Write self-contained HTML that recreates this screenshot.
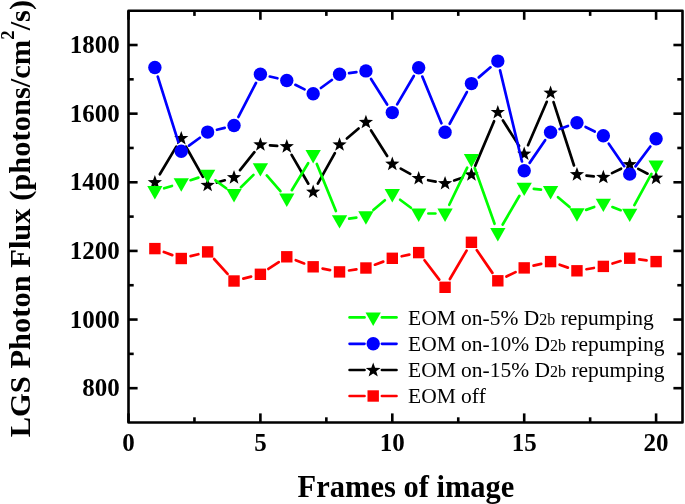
<!DOCTYPE html>
<html><head><meta charset="utf-8"><style>
html,body{margin:0;padding:0;background:#fff;width:685px;height:504px;overflow:hidden;}
svg{display:block;font-family:"Liberation Serif", serif;will-change:transform;}
</style></head><body>
<svg width="685" height="504" viewBox="0 0 685 504"><g stroke="#000" stroke-width="2.6" stroke-linecap="butt"><line x1="128.50" y1="422.5" x2="128.50" y2="413.4"/><line x1="128.50" y1="10.7" x2="128.50" y2="19.799999999999997"/><line x1="194.45" y1="422.5" x2="194.45" y2="417.3"/><line x1="194.45" y1="10.7" x2="194.45" y2="15.899999999999999"/><line x1="260.40" y1="422.5" x2="260.40" y2="413.4"/><line x1="260.40" y1="10.7" x2="260.40" y2="19.799999999999997"/><line x1="326.35" y1="422.5" x2="326.35" y2="417.3"/><line x1="326.35" y1="10.7" x2="326.35" y2="15.899999999999999"/><line x1="392.30" y1="422.5" x2="392.30" y2="413.4"/><line x1="392.30" y1="10.7" x2="392.30" y2="19.799999999999997"/><line x1="458.25" y1="422.5" x2="458.25" y2="417.3"/><line x1="458.25" y1="10.7" x2="458.25" y2="15.899999999999999"/><line x1="524.20" y1="422.5" x2="524.20" y2="413.4"/><line x1="524.20" y1="10.7" x2="524.20" y2="19.799999999999997"/><line x1="590.15" y1="422.5" x2="590.15" y2="417.3"/><line x1="590.15" y1="10.7" x2="590.15" y2="15.899999999999999"/><line x1="656.10" y1="422.5" x2="656.10" y2="413.4"/><line x1="656.10" y1="10.7" x2="656.10" y2="19.799999999999997"/><line x1="128.5" y1="388.18" x2="137.6" y2="388.18"/><line x1="682.5" y1="388.18" x2="673.4" y2="388.18"/><line x1="128.5" y1="353.87" x2="133.7" y2="353.87"/><line x1="682.5" y1="353.87" x2="677.3" y2="353.87"/><line x1="128.5" y1="319.55" x2="137.6" y2="319.55"/><line x1="682.5" y1="319.55" x2="673.4" y2="319.55"/><line x1="128.5" y1="285.23" x2="133.7" y2="285.23"/><line x1="682.5" y1="285.23" x2="677.3" y2="285.23"/><line x1="128.5" y1="250.92" x2="137.6" y2="250.92"/><line x1="682.5" y1="250.92" x2="673.4" y2="250.92"/><line x1="128.5" y1="216.60" x2="133.7" y2="216.60"/><line x1="682.5" y1="216.60" x2="677.3" y2="216.60"/><line x1="128.5" y1="182.28" x2="137.6" y2="182.28"/><line x1="682.5" y1="182.28" x2="673.4" y2="182.28"/><line x1="128.5" y1="147.96" x2="133.7" y2="147.96"/><line x1="682.5" y1="147.96" x2="677.3" y2="147.96"/><line x1="128.5" y1="113.65" x2="137.6" y2="113.65"/><line x1="682.5" y1="113.65" x2="673.4" y2="113.65"/><line x1="128.5" y1="79.33" x2="133.7" y2="79.33"/><line x1="682.5" y1="79.33" x2="677.3" y2="79.33"/><line x1="128.5" y1="45.01" x2="137.6" y2="45.01"/><line x1="682.5" y1="45.01" x2="673.4" y2="45.01"/></g>
<rect x="128.5" y="10.7" width="554.0" height="411.8" fill="none" stroke="#000" stroke-width="2.6" stroke-linejoin="round"/>
<g font-family="Liberation Serif" font-weight="bold" font-size="25" fill="#000"><text transform="translate(119.8,396.18) scale(1,1.03)" text-anchor="end">800</text><text transform="translate(119.8,327.55) scale(1,1.03)" text-anchor="end">1000</text><text transform="translate(119.8,258.92) scale(1,1.03)" text-anchor="end">1200</text><text transform="translate(119.8,190.28) scale(1,1.03)" text-anchor="end">1400</text><text transform="translate(119.8,121.65) scale(1,1.03)" text-anchor="end">1600</text><text transform="translate(119.8,53.01) scale(1,1.03)" text-anchor="end">1800</text><text transform="translate(128.50,451.4) scale(1,1.03)" text-anchor="middle">0</text><text transform="translate(260.40,451.4) scale(1,1.03)" text-anchor="middle">5</text><text transform="translate(392.30,451.4) scale(1,1.03)" text-anchor="middle">10</text><text transform="translate(524.20,451.4) scale(1,1.03)" text-anchor="middle">15</text><text transform="translate(656.10,451.4) scale(1,1.03)" text-anchor="middle">20</text></g>
<text transform="translate(406,497.3)" text-anchor="middle" font-family="Liberation Serif" font-weight="bold" font-size="30.5">Frames of image</text>
<text transform="translate(30.3,437.3) rotate(-90) scale(1.045,1)" x="0" y="0" font-family="Liberation Serif" font-weight="bold" font-size="29.2">LGS Photon Flux (photons/cm<tspan dy="-16.5" font-size="18">2</tspan><tspan dy="16.5">/s)</tspan></text>
<g stroke="#ff0000" stroke-width="2.7" stroke-linecap="round"><line x1="163.87" y1="251.97" x2="172.27" y2="255.13"/><line x1="190.57" y1="256.17" x2="198.33" y2="254.23"/><line x1="214.09" y1="259.01" x2="227.57" y2="273.89"/><line x1="243.32" y1="278.64" x2="251.10" y2="276.66"/><line x1="268.40" y1="268.99" x2="278.78" y2="262.11"/><line x1="295.76" y1="260.20" x2="304.18" y2="263.40"/><line x1="322.59" y1="268.62" x2="330.11" y2="270.08"/><line x1="349.04" y1="270.50" x2="356.42" y2="269.40"/><line x1="374.93" y1="264.69" x2="383.29" y2="261.61"/><line x1="401.68" y1="256.27" x2="409.30" y2="254.63"/><line x1="424.49" y1="260.24" x2="439.25" y2="279.66"/><line x1="449.92" y1="279.02" x2="466.58" y2="250.58"/><line x1="476.87" y1="250.22" x2="492.39" y2="272.88"/><line x1="506.44" y1="276.58" x2="515.58" y2="272.12"/><line x1="533.54" y1="265.67" x2="541.24" y2="263.83"/><line x1="559.64" y1="264.76" x2="567.90" y2="267.64"/><line x1="586.43" y1="269.22" x2="593.87" y2="267.98"/><line x1="612.51" y1="263.55" x2="620.55" y2="261.05"/><line x1="639.24" y1="259.43" x2="646.58" y2="260.37"/></g>
<rect x="149.18" y="242.90" width="11.4" height="11.4" fill="#ff0000"/><rect x="175.56" y="252.80" width="11.4" height="11.4" fill="#ff0000"/><rect x="201.94" y="246.20" width="11.4" height="11.4" fill="#ff0000"/><rect x="228.32" y="275.30" width="11.4" height="11.4" fill="#ff0000"/><rect x="254.70" y="268.60" width="11.4" height="11.4" fill="#ff0000"/><rect x="281.08" y="251.10" width="11.4" height="11.4" fill="#ff0000"/><rect x="307.46" y="261.10" width="11.4" height="11.4" fill="#ff0000"/><rect x="333.84" y="266.20" width="11.4" height="11.4" fill="#ff0000"/><rect x="360.22" y="262.30" width="11.4" height="11.4" fill="#ff0000"/><rect x="386.60" y="252.60" width="11.4" height="11.4" fill="#ff0000"/><rect x="412.98" y="246.90" width="11.4" height="11.4" fill="#ff0000"/><rect x="439.36" y="281.60" width="11.4" height="11.4" fill="#ff0000"/><rect x="465.74" y="236.60" width="11.4" height="11.4" fill="#ff0000"/><rect x="492.12" y="275.10" width="11.4" height="11.4" fill="#ff0000"/><rect x="518.50" y="262.20" width="11.4" height="11.4" fill="#ff0000"/><rect x="544.88" y="255.90" width="11.4" height="11.4" fill="#ff0000"/><rect x="571.26" y="265.10" width="11.4" height="11.4" fill="#ff0000"/><rect x="597.64" y="260.70" width="11.4" height="11.4" fill="#ff0000"/><rect x="624.02" y="252.50" width="11.4" height="11.4" fill="#ff0000"/><rect x="650.40" y="255.90" width="11.4" height="11.4" fill="#ff0000"/>
<g stroke="#000000" stroke-width="2.7" stroke-linecap="round"><line x1="159.81" y1="174.26" x2="176.33" y2="146.64"/><line x1="185.97" y1="146.76" x2="202.93" y2="176.84"/><line x1="216.86" y1="182.54" x2="224.80" y2="180.26"/><line x1="240.03" y1="170.11" x2="254.39" y2="152.19"/><line x1="269.98" y1="145.39" x2="277.20" y2="145.91"/><line x1="291.60" y1="154.90" x2="308.34" y2="183.70"/><line x1="317.84" y1="183.62" x2="334.86" y2="153.08"/><line x1="346.86" y1="138.49" x2="358.60" y2="128.51"/><line x1="371.04" y1="130.42" x2="387.18" y2="155.98"/><line x1="400.74" y1="168.67" x2="410.24" y2="173.83"/><line x1="428.11" y1="180.22" x2="435.63" y2="181.68"/><line x1="454.17" y1="180.46" x2="462.33" y2="177.74"/><line x1="475.18" y1="165.86" x2="494.08" y2="121.24"/><line x1="502.96" y1="120.51" x2="519.06" y2="145.89"/><line x1="528.01" y1="145.19" x2="546.77" y2="101.81"/><line x1="553.53" y1="102.13" x2="574.01" y2="165.47"/><line x1="586.51" y1="175.58" x2="593.79" y2="176.32"/><line x1="611.98" y1="173.11" x2="621.08" y2="168.69"/><line x1="638.25" y1="168.90" x2="647.57" y2="173.70"/></g>
<polygon points="154.88,175.00 156.69,180.01 162.01,180.18 157.80,183.45 159.29,188.57 154.88,185.57 150.47,188.57 151.96,183.45 147.75,180.18 153.07,180.01" fill="#000"/><polygon points="181.26,130.90 183.07,135.91 188.39,136.08 184.18,139.35 185.67,144.47 181.26,141.47 176.85,144.47 178.34,139.35 174.13,136.08 179.45,135.91" fill="#000"/><polygon points="207.64,177.70 209.45,182.71 214.77,182.88 210.56,186.15 212.05,191.27 207.64,188.27 203.23,191.27 204.72,186.15 200.51,182.88 205.83,182.71" fill="#000"/><polygon points="234.02,170.10 235.83,175.11 241.15,175.28 236.94,178.55 238.43,183.67 234.02,180.67 229.61,183.67 231.10,178.55 226.89,175.28 232.21,175.11" fill="#000"/><polygon points="260.40,137.20 262.21,142.21 267.53,142.38 263.32,145.65 264.81,150.77 260.40,147.77 255.99,150.77 257.48,145.65 253.27,142.38 258.59,142.21" fill="#000"/><polygon points="286.78,139.10 288.59,144.11 293.91,144.28 289.70,147.55 291.19,152.67 286.78,149.67 282.37,152.67 283.86,147.55 279.65,144.28 284.97,144.11" fill="#000"/><polygon points="313.16,184.50 314.97,189.51 320.29,189.68 316.08,192.95 317.57,198.07 313.16,195.07 308.75,198.07 310.24,192.95 306.03,189.68 311.35,189.51" fill="#000"/><polygon points="339.54,137.20 341.35,142.21 346.67,142.38 342.46,145.65 343.95,150.77 339.54,147.77 335.13,150.77 336.62,145.65 332.41,142.38 337.73,142.21" fill="#000"/><polygon points="365.92,114.80 367.73,119.81 373.05,119.98 368.84,123.25 370.33,128.37 365.92,125.38 361.51,128.37 363.00,123.25 358.79,119.98 364.11,119.81" fill="#000"/><polygon points="392.30,156.60 394.11,161.61 399.43,161.78 395.22,165.05 396.71,170.17 392.30,167.17 387.89,170.17 389.38,165.05 385.17,161.78 390.49,161.61" fill="#000"/><polygon points="418.68,170.90 420.49,175.91 425.81,176.08 421.60,179.35 423.09,184.47 418.68,181.47 414.27,184.47 415.76,179.35 411.55,176.08 416.87,175.91" fill="#000"/><polygon points="445.06,176.00 446.87,181.01 452.19,181.18 447.98,184.45 449.47,189.57 445.06,186.57 440.65,189.57 442.14,184.45 437.93,181.18 443.25,181.01" fill="#000"/><polygon points="471.44,167.20 473.25,172.21 478.57,172.38 474.36,175.65 475.85,180.77 471.44,177.77 467.03,180.77 468.52,175.65 464.31,172.38 469.63,172.21" fill="#000"/><polygon points="497.82,104.90 499.63,109.91 504.95,110.08 500.74,113.35 502.23,118.47 497.82,115.48 493.41,118.47 494.90,113.35 490.69,110.08 496.01,109.91" fill="#000"/><polygon points="524.20,146.50 526.01,151.51 531.33,151.68 527.12,154.95 528.61,160.07 524.20,157.07 519.79,160.07 521.28,154.95 517.07,151.68 522.39,151.51" fill="#000"/><polygon points="550.58,85.50 552.39,90.51 557.71,90.68 553.50,93.95 554.99,99.07 550.58,96.08 546.17,99.07 547.66,93.95 543.45,90.68 548.77,90.51" fill="#000"/><polygon points="576.96,167.10 578.77,172.11 584.09,172.28 579.88,175.55 581.37,180.67 576.96,177.67 572.55,180.67 574.04,175.55 569.83,172.28 575.15,172.11" fill="#000"/><polygon points="603.34,169.80 605.15,174.81 610.47,174.98 606.26,178.25 607.75,183.37 603.34,180.38 598.93,183.37 600.42,178.25 596.21,174.98 601.53,174.81" fill="#000"/><polygon points="629.72,157.00 631.53,162.01 636.85,162.18 632.64,165.45 634.13,170.57 629.72,167.57 625.31,170.57 626.80,165.45 622.59,162.18 627.91,162.01" fill="#000"/><polygon points="656.10,170.60 657.91,175.61 663.23,175.78 659.02,179.05 660.51,184.17 656.10,181.17 651.69,184.17 653.18,179.05 648.97,175.78 654.29,175.61" fill="#000"/>
<g stroke="#0000ff" stroke-width="2.7" stroke-linecap="round"><line x1="157.76" y1="76.66" x2="178.38" y2="142.14"/><line x1="189.02" y1="145.65" x2="199.88" y2="137.75"/><line x1="216.95" y1="129.77" x2="224.71" y2="127.83"/><line x1="238.42" y1="116.97" x2="256.00" y2="82.83"/><line x1="269.75" y1="76.50" x2="277.43" y2="78.30"/><line x1="295.37" y1="84.80" x2="304.57" y2="89.40"/><line x1="320.89" y1="88.01" x2="331.81" y2="79.99"/><line x1="349.06" y1="73.07" x2="356.40" y2="72.13"/><line x1="371.05" y1="79.01" x2="387.17" y2="104.49"/><line x1="397.16" y1="104.32" x2="413.82" y2="75.98"/><line x1="422.31" y1="76.59" x2="441.43" y2="123.31"/><line x1="449.64" y1="123.76" x2="466.86" y2="92.04"/><line x1="478.74" y1="77.37" x2="490.52" y2="67.33"/><line x1="500.06" y1="70.43" x2="521.96" y2="161.47"/><line x1="529.63" y1="162.88" x2="545.15" y2="140.22"/><line x1="559.60" y1="129.02" x2="567.94" y2="125.98"/><line x1="585.56" y1="126.97" x2="594.74" y2="131.53"/><line x1="608.79" y1="143.71" x2="624.27" y2="166.19"/><line x1="635.47" y1="166.41" x2="650.35" y2="146.49"/></g>
<circle cx="154.88" cy="67.50" r="6.7" fill="#0000ff"/><circle cx="181.26" cy="151.30" r="6.7" fill="#0000ff"/><circle cx="207.64" cy="132.10" r="6.7" fill="#0000ff"/><circle cx="234.02" cy="125.50" r="6.7" fill="#0000ff"/><circle cx="260.40" cy="74.30" r="6.7" fill="#0000ff"/><circle cx="286.78" cy="80.50" r="6.7" fill="#0000ff"/><circle cx="313.16" cy="93.70" r="6.7" fill="#0000ff"/><circle cx="339.54" cy="74.30" r="6.7" fill="#0000ff"/><circle cx="365.92" cy="70.90" r="6.7" fill="#0000ff"/><circle cx="392.30" cy="112.60" r="6.7" fill="#0000ff"/><circle cx="418.68" cy="67.70" r="6.7" fill="#0000ff"/><circle cx="445.06" cy="132.20" r="6.7" fill="#0000ff"/><circle cx="471.44" cy="83.60" r="6.7" fill="#0000ff"/><circle cx="497.82" cy="61.10" r="6.7" fill="#0000ff"/><circle cx="524.20" cy="170.80" r="6.7" fill="#0000ff"/><circle cx="550.58" cy="132.30" r="6.7" fill="#0000ff"/><circle cx="576.96" cy="122.70" r="6.7" fill="#0000ff"/><circle cx="603.34" cy="135.80" r="6.7" fill="#0000ff"/><circle cx="629.72" cy="174.10" r="6.7" fill="#0000ff"/><circle cx="656.10" cy="138.80" r="6.7" fill="#0000ff"/>
<g stroke="#00ff00" stroke-width="2.7" stroke-linecap="round"><line x1="164.18" y1="188.25" x2="171.96" y2="185.95"/><line x1="190.48" y1="180.19" x2="198.42" y2="177.61"/><line x1="215.45" y1="180.35" x2="226.21" y2="188.25"/><line x1="240.94" y1="187.20" x2="253.48" y2="174.90"/><line x1="266.76" y1="175.43" x2="280.42" y2="191.17"/><line x1="291.80" y1="190.20" x2="308.14" y2="163.20"/><line x1="316.80" y1="163.89" x2="335.90" y2="211.11"/><line x1="349.14" y1="218.68" x2="356.32" y2="217.62"/><line x1="373.34" y1="209.95" x2="384.88" y2="200.25"/><line x1="400.10" y1="199.77" x2="410.88" y2="207.73"/><line x1="428.38" y1="213.50" x2="435.36" y2="213.50"/><line x1="449.28" y1="204.77" x2="467.22" y2="167.63"/><line x1="474.70" y1="168.04" x2="494.56" y2="223.76"/><line x1="502.70" y1="224.52" x2="519.32" y2="195.98"/><line x1="533.82" y1="188.80" x2="540.96" y2="189.70"/><line x1="557.99" y1="197.16" x2="569.55" y2="206.94"/><line x1="586.08" y1="209.88" x2="594.22" y2="206.92"/><line x1="612.41" y1="207.04" x2="620.65" y2="210.16"/><line x1="634.38" y1="205.09" x2="651.44" y2="173.91"/></g>
<path d="M147.23 186.10L162.53 186.10L154.88 199.50Z" fill="#00ff00"/><path d="M173.61 178.30L188.91 178.30L181.26 191.70Z" fill="#00ff00"/><path d="M199.99 169.70L215.29 169.70L207.64 183.10Z" fill="#00ff00"/><path d="M226.37 189.10L241.67 189.10L234.02 202.50Z" fill="#00ff00"/><path d="M252.75 163.20L268.05 163.20L260.40 176.60Z" fill="#00ff00"/><path d="M279.13 193.60L294.43 193.60L286.78 207.00Z" fill="#00ff00"/><path d="M305.51 150.00L320.81 150.00L313.16 163.40Z" fill="#00ff00"/><path d="M331.89 215.20L347.19 215.20L339.54 228.60Z" fill="#00ff00"/><path d="M358.27 211.30L373.57 211.30L365.92 224.70Z" fill="#00ff00"/><path d="M384.65 189.10L399.95 189.10L392.30 202.50Z" fill="#00ff00"/><path d="M411.03 208.60L426.33 208.60L418.68 222.00Z" fill="#00ff00"/><path d="M437.41 208.60L452.71 208.60L445.06 222.00Z" fill="#00ff00"/><path d="M463.79 154.00L479.09 154.00L471.44 167.40Z" fill="#00ff00"/><path d="M490.17 228.00L505.47 228.00L497.82 241.40Z" fill="#00ff00"/><path d="M516.55 182.70L531.85 182.70L524.20 196.10Z" fill="#00ff00"/><path d="M542.93 186.00L558.23 186.00L550.58 199.40Z" fill="#00ff00"/><path d="M569.31 208.30L584.61 208.30L576.96 221.70Z" fill="#00ff00"/><path d="M595.69 198.70L610.99 198.70L603.34 212.10Z" fill="#00ff00"/><path d="M622.07 208.70L637.37 208.70L629.72 222.10Z" fill="#00ff00"/><path d="M648.45 160.50L663.75 160.50L656.10 173.90Z" fill="#00ff00"/>
<g font-family="Liberation Serif" font-size="21.5" fill="#000"><line x1="349.6" y1="317.4" x2="364.5" y2="317.4" stroke="#00ff00" stroke-width="2.7" stroke-linecap="round"/><line x1="381.9" y1="317.4" x2="396.5" y2="317.4" stroke="#00ff00" stroke-width="2.7" stroke-linecap="round"/><path d="M365.55 312.50L380.85 312.50L373.20 325.90Z" fill="#00ff00"/><text transform="translate(408.0,324.50) scale(1,1.02)">EOM on-5% D<tspan font-size="16">2b</tspan> repumping</text><line x1="349.6" y1="343.8" x2="364.5" y2="343.8" stroke="#0000ff" stroke-width="2.7" stroke-linecap="round"/><line x1="381.9" y1="343.8" x2="396.5" y2="343.8" stroke="#0000ff" stroke-width="2.7" stroke-linecap="round"/><circle cx="373.20" cy="343.80" r="6.7" fill="#0000ff"/><text transform="translate(408.0,350.90) scale(1,1.02)">EOM on-10% D<tspan font-size="16">2b</tspan> repumping</text><line x1="349.6" y1="370.0" x2="364.5" y2="370.0" stroke="#000000" stroke-width="2.7" stroke-linecap="round"/><line x1="381.9" y1="370.0" x2="396.5" y2="370.0" stroke="#000000" stroke-width="2.7" stroke-linecap="round"/><polygon points="373.20,362.50 375.08,367.71 380.62,367.89 376.24,371.29 377.78,376.61 373.20,373.50 368.62,376.61 370.16,371.29 365.78,367.89 371.32,367.71" fill="#000"/><text transform="translate(408.0,377.10) scale(1,1.02)">EOM on-15% D<tspan font-size="16">2b</tspan> repumping</text><line x1="349.6" y1="396.0" x2="364.5" y2="396.0" stroke="#ff0000" stroke-width="2.7" stroke-linecap="round"/><line x1="381.9" y1="396.0" x2="396.5" y2="396.0" stroke="#ff0000" stroke-width="2.7" stroke-linecap="round"/><rect x="367.50" y="390.30" width="11.4" height="11.4" fill="#ff0000"/><text transform="translate(408.0,403.10) scale(1,1.02)">EOM off</text></g></svg>
</body></html>
